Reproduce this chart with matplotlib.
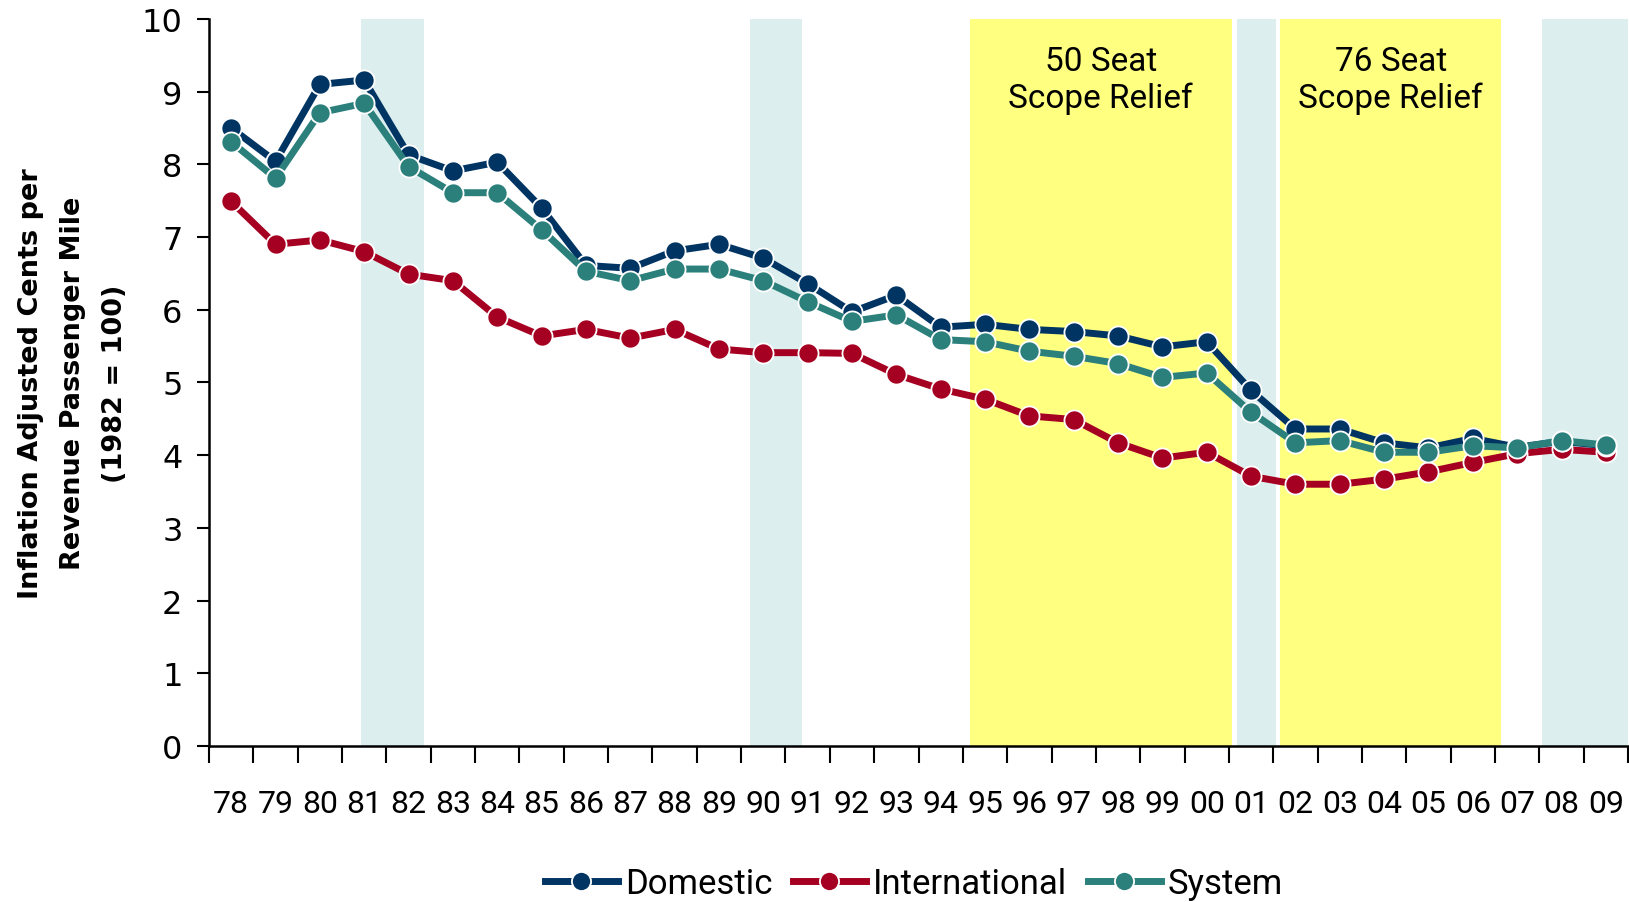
import matplotlib.pyplot as plt
import numpy as np

years = ['78', '79', '80', '81', '82', '83', '84', '85', '86', '87', '88',
         '89', '90', '91', '92', '93', '94', '95', '96', '97', '98', '99',
         '00', '01', '02', '03', '04', '05', '06', '07', '08', '09']

domestic = [8.50, 8.04, 9.10, 9.16, 8.13, 7.91, 8.03, 7.40, 6.61, 6.57, 6.81,
            6.90, 6.71, 6.36, 5.97, 6.20, 5.76, 5.80, 5.73, 5.70, 5.64, 5.49,
            5.56, 4.89, 4.36, 4.36, 4.17, 4.10, 4.23, 4.11, 4.19, 4.13]
international = [7.49, 6.90, 6.96, 6.80, 6.49, 6.40, 5.90, 5.64, 5.73, 5.61, 5.73,
                 5.46, 5.41, 5.41, 5.40, 5.11, 4.91, 4.77, 4.54, 4.49, 4.17, 3.96,
                 4.04, 3.71, 3.60, 3.60, 3.67, 3.77, 3.90, 4.02, 4.08, 4.04]
system = [8.31, 7.81, 8.71, 8.84, 7.97, 7.61, 7.61, 7.10, 6.53, 6.40, 6.56,
          6.56, 6.40, 6.11, 5.84, 5.93, 5.59, 5.56, 5.43, 5.36, 5.26, 5.07,
          5.13, 4.59, 4.17, 4.20, 4.04, 4.04, 4.13, 4.10, 4.20, 4.14]

# shaded periods, in category index units
recessions = [(2.92, 4.35), (11.70, 12.87), (22.68, 23.57), (29.56, 31.5)]
scope_relief = [(16.66, 22.56, '50 Seat\nScope Relief'),
                (23.66, 28.64, '76 Seat\nScope Relief')]

narrow = ['Roboto', 'DejaVu Sans']  # closest to the condensed face of the original

fig = plt.figure(figsize=(16.29, 9.03), dpi=100)
ax = fig.add_axes([0.1283, 0.1728, 0.8711, 0.8051])

for a, b in recessions:
    ax.axvspan(a, b, color='#DDEEEE', lw=0, zorder=0)
for a, b, txt in scope_relief:
    ax.axvspan(a, b, color='#FFFF80', lw=0, zorder=0)
    ax.text((a + b) / 2, 9.17, txt, ha='center', va='center', fontsize=24,
            family=narrow, linespacing=1.2)

x = np.arange(len(years))
style = dict(marker='o', markersize=14.5, markeredgecolor='white',
             markeredgewidth=1.3, linewidth=5)
ax.plot(x, international, color='#A50021', label='International', zorder=3, **style)
ax.plot(x, domestic, color='#003463', label='Domestic', zorder=4, **style)
ax.plot(x, system, color='#2B807C', label='System', zorder=5, **style)

ax.set_xlim(-0.5, len(years) - 0.5)
ax.set_ylim(0, 10)
ax.set_yticks(range(0, 11))
ax.tick_params(axis='y', labelsize=23, length=9, width=1.5, pad=10, direction='out')
ax.set_xticks(x, years)
ax.set_xticks(np.arange(-0.5, len(years), 1), minor=True)
ax.tick_params(axis='x', which='major', length=0, pad=31, labelsize=23)
ax.tick_params(axis='x', which='minor', length=12, width=1.5, direction='out')
for lab in ax.get_xticklabels():
    lab.set_family(narrow)

for s in ['top', 'right']:
    ax.spines[s].set_visible(False)
for s in ['left', 'bottom']:
    ax.spines[s].set_linewidth(1.8)

ax.set_ylabel('Inflation Adjusted Cents per\nRevenue Passenger Mile\n(1982 = 100)',
              fontsize=19.5, fontweight='bold', linespacing=1.8)
ax.yaxis.set_label_coords(-0.057, 0.5)

h, l = ax.get_legend_handles_labels()
order = [1, 0, 2]
fig.legend([h[i] for i in order], [l[i] for i in order], loc='center',
           bbox_to_anchor=(0.561, 0.02), ncol=3, frameon=False,
           prop={'family': narrow, 'size': 25}, handlelength=2.1,
           handletextpad=0.2, columnspacing=0.6, markerscale=0.95)

fig.savefig('out.png', dpi=100)
